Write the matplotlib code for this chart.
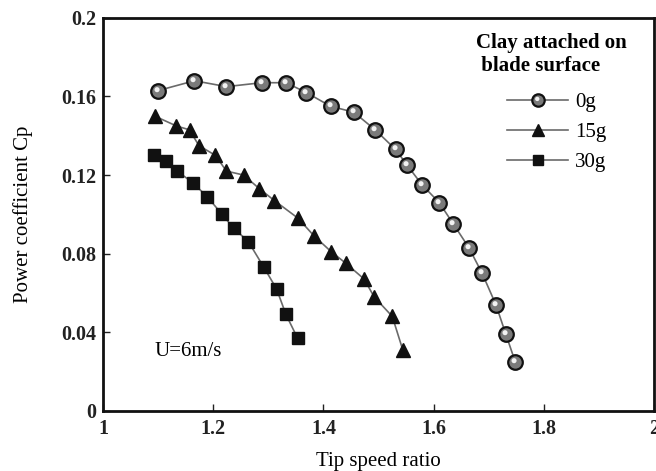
import numpy as np
import matplotlib.pyplot as plt
from matplotlib.path import Path

plt.rcParams['font.family'] = ['Liberation Serif', 'DejaVu Serif']

# tip speed ratio / Cp
tsr_0g = [1.100, 1.166, 1.224, 1.288, 1.332, 1.369, 1.413, 1.455, 1.494, 1.531,
          1.552, 1.579, 1.610, 1.636, 1.664, 1.688, 1.713, 1.731, 1.748]
cp_0g = [0.163, 0.168, 0.165, 0.167, 0.167, 0.162, 0.155, 0.152, 0.143, 0.133,
         0.125, 0.115, 0.106, 0.095, 0.083, 0.070, 0.054, 0.039, 0.025]

tsr_15g = [1.094, 1.133, 1.157, 1.174, 1.204, 1.224, 1.255, 1.284, 1.311, 1.354,
           1.383, 1.414, 1.441, 1.474, 1.492, 1.525, 1.544]
cp_15g = [0.150, 0.145, 0.143, 0.135, 0.130, 0.122, 0.120, 0.113, 0.107, 0.098,
          0.089, 0.081, 0.075, 0.067, 0.058, 0.048, 0.031]

tsr_30g = [1.092, 1.115, 1.135, 1.163, 1.189, 1.216, 1.237, 1.264, 1.292, 1.315,
           1.332, 1.353]
cp_30g = [0.130, 0.127, 0.122, 0.116, 0.109, 0.100, 0.093, 0.086, 0.073, 0.062,
          0.049, 0.037]

labels = ['0g', '15g', '30g']
xticks = [1, 1.2, 1.4, 1.6, 1.8, 2]
xtick_labels = ['1', '1.2', '1.4', '1.6', '1.8', '2']
yticks = [0, 0.04, 0.08, 0.12, 0.16, 0.2]
ytick_labels = ['0', '0.04', '0.08', '0.12', '0.16', '0.2']

# small off-centre disc used as the highlight on the "sphere" markers
t = np.linspace(0, 2 * np.pi, 40)
hl_path = Path(np.column_stack([-0.2 + 0.35 * np.cos(t), 0.25 + 0.35 * np.sin(t)]))

fig = plt.figure(figsize=(6.56, 4.71), dpi=100)
ax = fig.add_axes([0.157, 0.128, 0.840, 0.834])

line_c = '#6a6a6a'
ms = 10.5
h0, = ax.plot(tsr_0g, cp_0g, '-', color=line_c, lw=1.2, marker='o', ms=ms,
              mfc='#7a7a7a', mec='#111111', mew=1.6)
h0b, = ax.plot(tsr_0g, cp_0g, ls='none', marker=hl_path, ms=ms * 0.6,
               mfc='#f2f2f2', mec='none')
h1, = ax.plot(tsr_15g, cp_15g, '-', color=line_c, lw=1.2, marker='^', ms=10.5,
              mfc='#111111', mec='#111111')
h2, = ax.plot(tsr_30g, cp_30g, '-', color=line_c, lw=1.2, marker='s', ms=8.5,
              mfc='#111111', mec='#111111')

ax.set_xlim(1, 2)
ax.set_ylim(0, 0.2)
ax.set_xticks(xticks)
ax.set_xticklabels(xtick_labels)
ax.set_yticks(yticks)
ax.set_yticklabels(ytick_labels)
ax.tick_params(direction='in', length=5, width=1, labelsize=14.5, colors='#222222')
ax.tick_params(axis='x', pad=6)
ax.tick_params(axis='y', pad=5)
for lab in ax.get_xticklabels() + ax.get_yticklabels():
    lab.set_fontweight('bold')
for sp in ax.spines.values():
    sp.set_linewidth(2)
    sp.set_color('#111111')

ax.set_xlabel('Tip speed ratio', fontsize=15, labelpad=9)
ax.set_ylabel('Power coefficient Cp', fontsize=15, labelpad=20)

ax.text(1.093, 0.030, 'U=6m/s', fontsize=15, va='center', ha='left')
ax.text(1.677, 0.1925, 'Clay attached on\n blade surface', fontsize=15,
        fontweight='bold', va='top', ha='left', linespacing=1.2)

ax.legend([(h0, h0b), h1, h2], labels, loc='upper left',
          bbox_to_anchor=(0.70, 0.857), frameon=False, fontsize=15,
          handlelength=2.9, handletextpad=0.35, labelspacing=0.5,
          markerscale=0.85)

fig.savefig('out.png', dpi=100)
